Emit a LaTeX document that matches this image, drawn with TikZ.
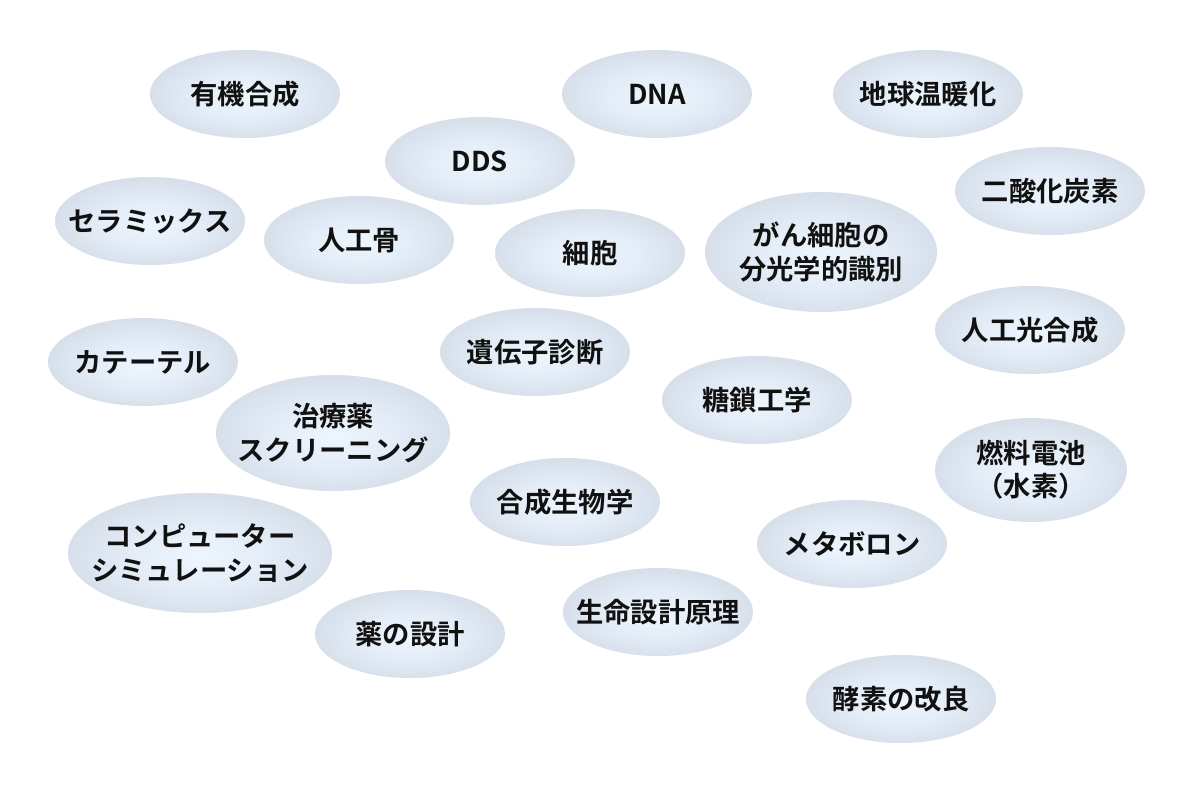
\documentclass[tikz,border=0pt]{standalone}
\usepackage{fontspec}
\setmainfont{Noto Sans CJK JP}[BoldFont={Noto Sans CJK JP Bold}]
\usetikzlibrary{shapes.geometric}
\definecolor{ellin}{HTML}{EDF5FD}
\definecolor{ellmid}{HTML}{E4EDF7}
\definecolor{ellout}{HTML}{D7E0EA}
\definecolor{txt}{HTML}{111111}
\pgfdeclareradialshading{bubbleshade}{\pgfpoint{0bp}{-2bp}}{color(0bp)=(ellin); color(13bp)=(ellmid); color(25bp)=(ellout); color(50bp)=(ellout)}
\tikzset{
  bubble/.style={ellipse, inner xsep=-40pt, inner ysep=-15pt, shading=bubbleshade,
    minimum width=142.5pt, minimum height=66pt, align=center,
    font=\fontsize{20.5}{25}\selectfont\bfseries, text=txt},
  big/.style={minimum width=174pt, minimum height=90pt},
}
\begin{document}
\begin{tikzpicture}[x=0.75pt,y=-0.75pt]
\useasboundingbox[fill=white] (0,0) rectangle (1200,800);
\node[bubble] (a1) at (245,94) {有機合成};
\node[bubble] (a2) at (657,94) {DNA};
\node[bubble] (a3) at (928,94) {地球温暖化};
\node[bubble] (a4) at (480,161) {DDS};
\node[bubble] (a5) at (1050,191) {二酸化炭素};
\node[bubble] (a6) at (150,221) {セラミックス};
\node[bubble] (a7) at (359,240) {人工骨};
\node[bubble] (a8) at (590,253) {細胞};
\node[bubble,big] (a9) at (821,252) {がん細胞の\\分光学的識別};
\node[bubble] (a10) at (1030,330) {人工光合成};
\node[bubble] (a11) at (143,362) {カテーテル};
\node[bubble] (a12) at (535,352) {遺伝子診断};
\node[bubble] (a13) at (757,400) {糖鎖工学};
\node[bubble,minimum width=175.5pt,minimum height=87pt] (a14) at (333,433) {治療薬\\スクリーニング};
\node[bubble,minimum width=144pt,minimum height=78pt] (a15) at (1031,470) {燃料電池\\（水素）};
\node[bubble] (a16) at (565,502) {合成生物学};
\node[bubble,minimum width=198pt,minimum height=90pt] (a17) at (200,553) {コンピューター\\シミュレーション};
\node[bubble] (a18) at (852,544) {メタボロン};
\node[bubble] (a19) at (658,612) {生命設計原理};
\node[bubble] (a20) at (410,634) {薬の設計};
\node[bubble] (a21) at (901,699) {酵素の改良};
\end{tikzpicture}
\end{document}
